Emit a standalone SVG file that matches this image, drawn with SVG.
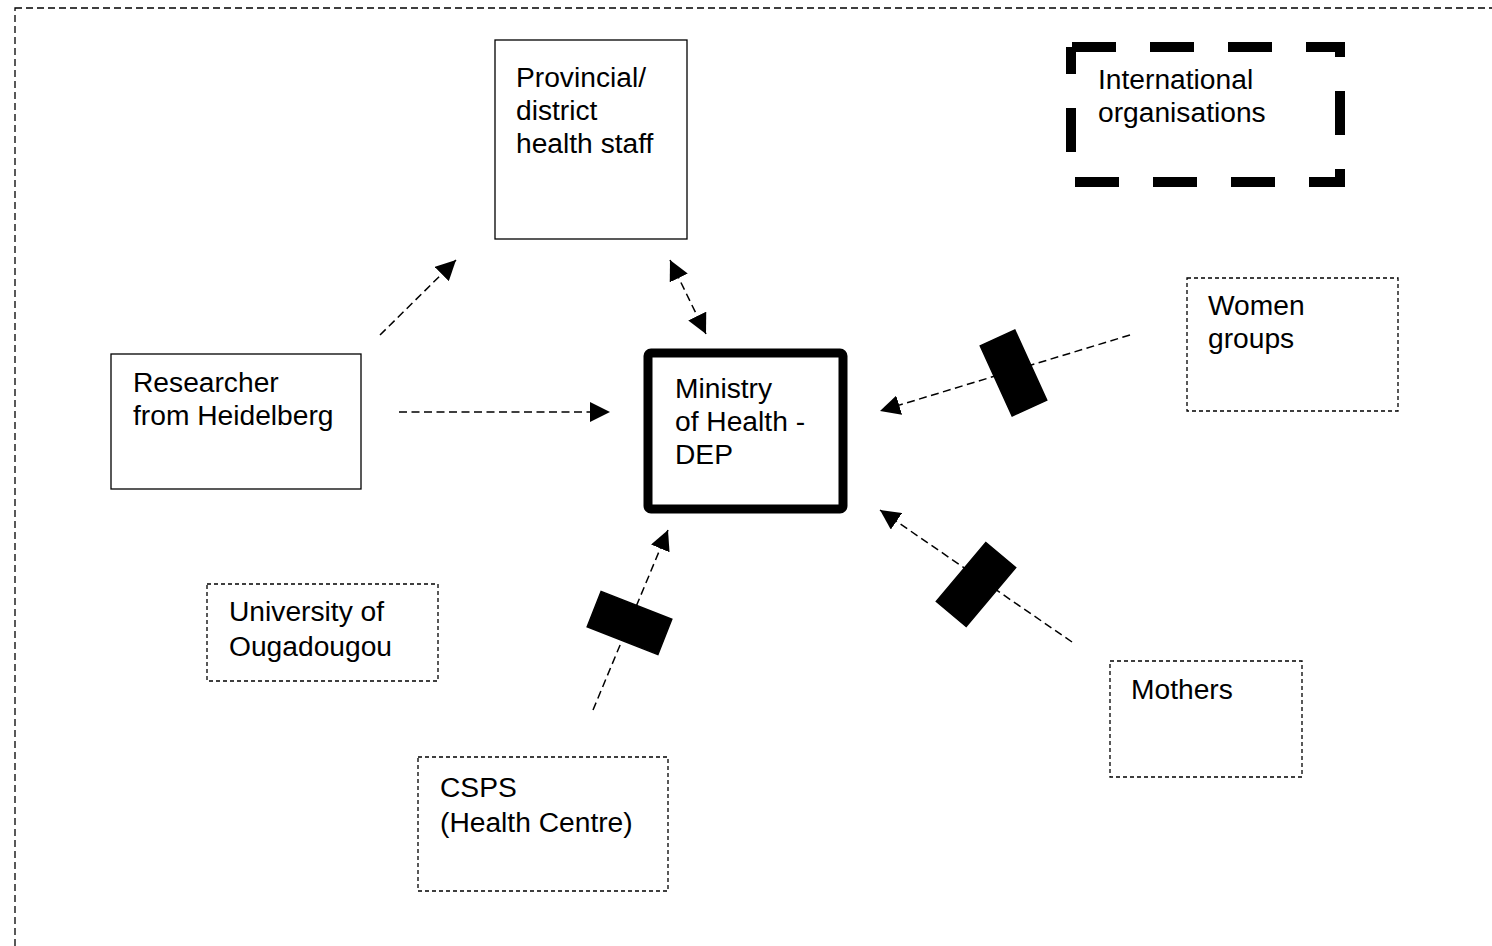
<svg xmlns="http://www.w3.org/2000/svg" width="1492" height="946" viewBox="0 0 1492 946">
<style>
  text { font-family: "Liberation Sans", Arial, sans-serif; font-size: 28.2px; fill: #000; }
  .solid { fill: #fff; stroke: #000; stroke-width: 1.3; }
  .dotted { fill: #fff; stroke: #000; stroke-width: 1.3; stroke-dasharray: 4 3; }
  .conn { fill: none; stroke: #000; stroke-width: 1.5; stroke-dasharray: 8 4.5; }
  .barrier { fill: #000; stroke: #000; stroke-width: 1.5; }
</style>
<defs>
  <marker id="ah" viewBox="0 0 20 20" refX="20" refY="10" markerWidth="20" markerHeight="20" markerUnits="userSpaceOnUse" orient="auto-start-reverse">
    <path d="M0,0 L20,10 L0,20 Z" fill="#000"/>
  </marker>
</defs>
<rect x="0" y="0" width="1492" height="946" fill="#fff"/>
<rect id="frame" x="15" y="8" width="1500" height="960" fill="none" stroke="#000" stroke-width="1.3" stroke-dasharray="7 4"/>

<g id="connectors">
  <line class="conn" x1="380" y1="335" x2="456" y2="260" marker-end="url(#ah)"/>
  <line class="conn" x1="670" y1="260" x2="706" y2="334" marker-start="url(#ah)" marker-end="url(#ah)"/>
  <line class="conn" x1="399" y1="412" x2="610" y2="412" marker-end="url(#ah)"/>
  <line class="conn" x1="1130" y1="335" x2="880" y2="411" marker-end="url(#ah)"/>
  <line class="conn" x1="1072" y1="642" x2="880" y2="510" marker-end="url(#ah)"/>
  <line class="conn" x1="593" y1="710" x2="668" y2="530" marker-end="url(#ah)"/>
  <rect class="barrier" x="-19" y="-38.5" width="38" height="77" transform="translate(1013.5,373) rotate(-24.5)"/>
  <rect class="barrier" x="-38" y="-19" width="76" height="38" transform="translate(629.5,623) rotate(21.5)"/>
  <rect class="barrier" x="-38.5" y="-19.5" width="77" height="39" transform="translate(976,584.5) rotate(-50)"/>
</g>

<g id="provincial">
  <rect class="solid" x="495" y="40" width="192" height="199"/>
  <text x="516" y="87">Provincial/</text>
  <text x="516" y="120">district</text>
  <text x="516" y="153">health staff</text>
</g>

<g id="international">
  <rect x="1071" y="47" width="269" height="135" fill="none" stroke="#000" stroke-width="10" stroke-dasharray="44 34" stroke-dashoffset="-1"/>
  <text x="1098" y="89">International</text>
  <text x="1098" y="122">organisations</text>
</g>

<g id="researcher">
  <rect class="solid" x="111" y="354" width="250" height="135"/>
  <text x="133" y="392">Researcher</text>
  <text x="133" y="425">from Heidelberg</text>
</g>

<g id="ministry">
  <rect x="648" y="353" width="195" height="156" rx="3" fill="#fff" stroke="#000" stroke-width="9"/>
  <text x="675" y="398">Ministry</text>
  <text x="675" y="431">of Health -</text>
  <text x="675" y="464">DEP</text>
</g>

<g id="women">
  <rect class="dotted" x="1187" y="278" width="211" height="133"/>
  <text x="1208" y="315">Women</text>
  <text x="1208" y="348">groups</text>
</g>

<g id="university">
  <rect class="dotted" x="207" y="584" width="231" height="97"/>
  <text x="229" y="621">University of</text>
  <text x="229" y="656">Ougadougou</text>
</g>

<g id="mothers">
  <rect class="dotted" x="1110" y="661" width="192" height="116"/>
  <text x="1131" y="699">Mothers</text>
</g>

<g id="csps">
  <rect class="dotted" x="418" y="757" width="250" height="134"/>
  <text x="440" y="797">CSPS</text>
  <text x="440" y="832">(Health Centre)</text>
</g>
</svg>
